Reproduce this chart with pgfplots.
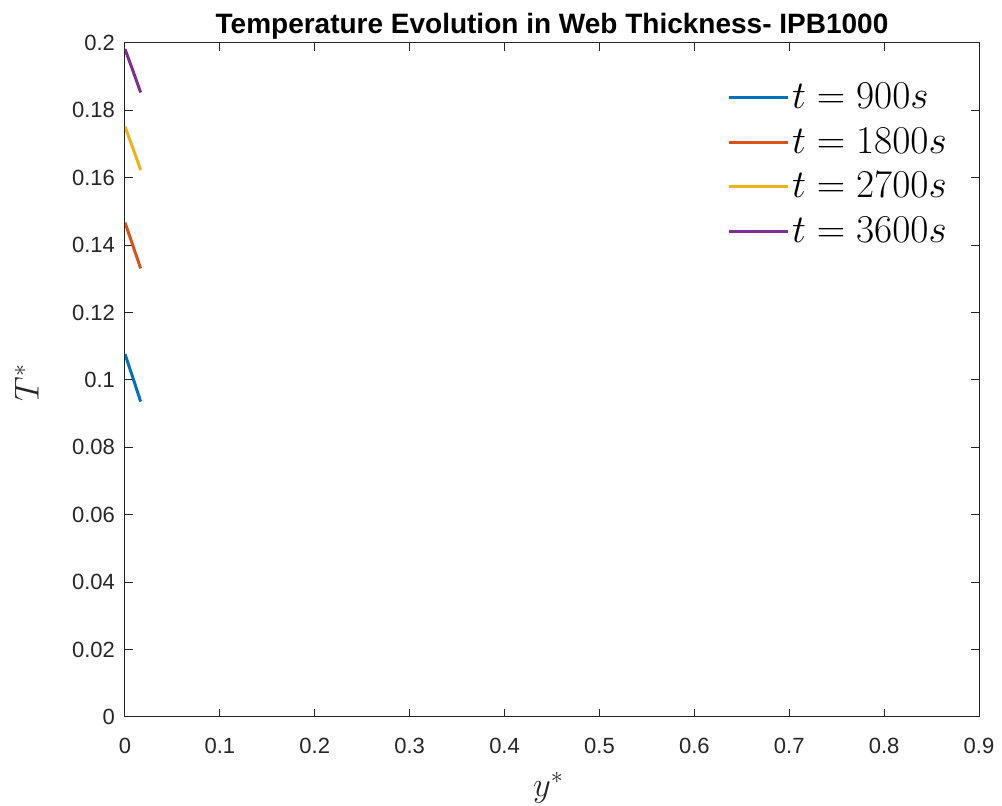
\documentclass[border=0pt]{standalone}
\usepackage{pgfplots}
\pgfplotsset{compat=1.18}
\usepackage{fontspec}
\setmainfont{Liberation Sans}

% MATLAB default line colours
\definecolor{mblue}{rgb}{0,0.447,0.741}
\definecolor{morange}{rgb}{0.850,0.325,0.098}
\definecolor{myellow}{rgb}{0.929,0.694,0.125}
\definecolor{mpurple}{rgb}{0.494,0.184,0.556}
\definecolor{axgray}{rgb}{0.15,0.15,0.15}

\begin{document}
\begin{tikzpicture}
\useasboundingbox (-62.5pt,-44.5pt) rectangle (438.5pt,358.5pt);
\begin{axis}[
  at={(0,0)}, anchor=south west,
  scale only axis,
  width=427pt, height=337pt,
  xmin=0, xmax=0.9, ymin=0, ymax=0.2,
  xtick={0,0.1,...,0.9},
  ytick={0,0.02,...,0.2},
  scaled ticks=false,
  /pgf/number format/.cd, fixed, precision=2, assume math mode=true,
  /pgfplots/.cd,
  tick align=inside,
  major tick length=4pt,
  axis line style={axgray, line width=0.5pt},
  every tick/.style={axgray, line width=0.5pt},
  tick label style={font=\fontsize{11}{13}\selectfont, text=axgray},
  xticklabel style={yshift=-7pt},
  yticklabel style={xshift=-1.5pt},
  title={\textbf{Temperature Evolution in Web Thickness- IPB1000}},
  title style={font=\fontsize{14}{16}\selectfont, yshift=-7.5pt},
  xlabel={$y^{*}$},
  ylabel={$T^{*}$},
  every axis x label/.style={at={(axis description cs:0.496,-0.105)}, anchor=center,
    font=\fontsize{17}{19}\selectfont, text=axgray},
  every axis y label/.style={at={(axis description cs:-0.115,0.496)}, rotate=90, anchor=center,
    font=\fontsize{17}{19}\selectfont, text=axgray},
  legend style={at={(0.973,0.952)}, anchor=north east, draw=none, fill=none,
    font=\fontsize{21}{24}\selectfont, row sep=4.3pt,
    nodes={inner xsep=1.5pt, scale=0.95, transform shape}},
  legend cell align=left,
  legend image code/.code={\draw[#1] (0pt,0pt) -- (29.5pt,0pt);},
]
\addplot[mblue, line width=1.5pt] coordinates {(0,0.1077) (0.0083,0.1007) (0.0165,0.0936)};
\addlegendentry{$t=900s$}
\addplot[morange, line width=1.5pt] coordinates {(0,0.1467) (0.0083,0.1399) (0.0165,0.1331)};
\addlegendentry{$t=1800s$}
\addplot[myellow, line width=1.5pt] coordinates {(0,0.1752) (0.0083,0.1688) (0.0165,0.1623)};
\addlegendentry{$t=2700s$}
\addplot[mpurple, line width=1.5pt] coordinates {(0,0.1982) (0.0083,0.1918) (0.0165,0.1853)};
\addlegendentry{$t=3600s$}
\end{axis}
\end{tikzpicture}
\end{document}
